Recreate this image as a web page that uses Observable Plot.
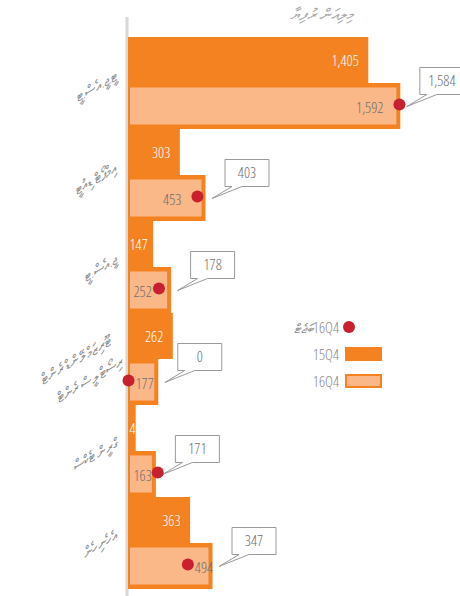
<!DOCTYPE html>
<html><head><meta charset="utf-8">
<script src="https://cdn.jsdelivr.net/npm/d3@7"></script>
<script src="https://cdn.jsdelivr.net/npm/@observablehq/plot@0.6"></script>
<style>
body{margin:0;background:#fff;}
#wrap{position:relative;width:460px;height:596px;overflow:hidden;font-family:"Open Sans",sans-serif;font-stretch:75%;font-weight:300;}
#wrap svg{position:absolute;left:0;top:0;}
.ov{position:absolute;color:#8a8a8a;font-size:15px;white-space:nowrap;line-height:16px;}
</style></head><body><div id="wrap"></div>
<script>
// ---- data ----
const groups = ["ޓީ.ޖީ.އެސް.ޓީ", "އިމްޕޯޓް ޑިއުޓީ", "ޖީ.އެސް.ޓީ", "ޓޫރިޒަމް ލޭންޑް ރެންޓް\nރިސޯޓް ލީސް ރެންޓް", "ގްރީން ޓެކްސް", "އެހެނިހެން"];
const q15 = [1405, 303, 147, 262, 45, 363];
const q16 = [1592, 453, 252, 177, 163, 494];
const budget16 = [1584, 403, 178, 0, 171, 347];
const seriesNames = ["15Q4", "16Q4"];
const budgetName = "ބަޖެޓް";
const unitTitle = "މިލިއަން ރުފިޔާ";

// ---- styles ----
const DARK = "#F58220", LIGHT = "#FAB788", RED = "#C8202F", GRAY = "#6d6e71";
const X0 = 128, X1 = 453, XMAX = 1900;
const W = 460, H = 596;
const FS = 15;

const keyA = i => `${i}a`, keyB = i => `${i}b`;
const rows15 = groups.map((g, i) => ({key: keyA(i), value: q15[i]}));
const rows16 = groups.map((g, i) => ({key: keyB(i), value: q16[i], budget: budget16[i]}));
const yDomain = groups.flatMap((g, i) => [keyA(i), keyB(i)]);

const px = v => v * (X1 - X0) / XMAX;
const fmt = d3.format(",");
const tw = s => s.length * 6.1;

const lab15 = rows15.map(r => {
  const s = fmt(r.value);
  const fits = px(r.value) - 10 - tw(s) >= 4;
  return {...r, s, kind: fits ? "end" : "start", lx: fits ? r.value : 0};
});
const lab16 = rows16.map(r => {
  const s = fmt(r.value), w = tw(s);
  if (px(r.value) - px(r.budget) > w + 6) return {...r, s, kind: "after", lx: r.budget};
  const e = Math.min(r.value, r.budget);
  if (px(e) - 16 - w >= 5) return {...r, s, kind: "end", lx: e};
  return {...r, s, kind: "start", lx: 0};
});

const callout = {
  draw(ctx) {
    const L = 19, T = -39, Wd = 44, B = -12;
    ctx.moveTo(L, T); ctx.lineTo(L + Wd, T); ctx.lineTo(L + Wd, B);
    ctx.lineTo(L + 17, B); ctx.lineTo(6, 0); ctx.lineTo(L + 7, B);
    ctx.lineTo(L, B); ctx.closePath();
  }
};

const chart = Plot.plot({
  width: W, height: H,
  marginLeft: X0, marginRight: W - X1, marginTop: 34, marginBottom: 4,
  style: {fontFamily: "'Open Sans', sans-serif", fontStretch: "75%", fontWeight: 300, background: "transparent", overflow: "visible"},
  x: {domain: [0, XMAX], range: [X0, X1], axis: null},
  y: {domain: yDomain, range: [34, 592], padding: 0, axis: null},
  marks: [
    Plot.ruleX([0], {stroke: "#d8d8d8", strokeWidth: 3, dx: -1.5, insetTop: -17, insetBottom: -4}),
    Plot.barX(rows15, {x: "value", y: "key", fill: DARK}),
    Plot.barX(rows16, {x: "value", y: "key", fill: DARK}),
    Plot.barX(rows16, {x: "value", y: "key", fill: LIGHT, insetTop: 4.5, insetBottom: 4.5, insetRight: 4, insetLeft: 2}),
    // 15Q4 value labels
    Plot.text(lab15.filter(d => d.kind === "end"), {x: "lx", y: "key", text: "s", textAnchor: "end", dx: -10, dy: 1, fill: "white", fontSize: FS}),
    Plot.text(lab15.filter(d => d.kind === "start"), {x: "lx", y: "key", text: "s", textAnchor: "start", dx: 1, dy: 1, fill: "white", fontSize: FS}),
    // 16Q4 value labels
    Plot.text(lab16.filter(d => d.kind === "end"), {x: "lx", y: "key", text: "s", textAnchor: "end", dx: -16, dy: 2, fill: GRAY, fontSize: FS}),
    Plot.text(lab16.filter(d => d.kind === "start"), {x: "lx", y: "key", text: "s", textAnchor: "start", dx: 5, dy: 2, fill: GRAY, fontSize: FS}),
    Plot.text(lab16.filter(d => d.kind === "after"), {x: "lx", y: "key", text: "s", textAnchor: "start", dx: 7, dy: 2, fill: GRAY, fontSize: FS}),
    // callouts
    Plot.dot(rows16, {x: "value", y: "key", symbol: callout, fill: "white", stroke: "#9a9a9a", strokeWidth: 1, r: 5}),
    Plot.text(rows16, {x: "value", y: "key", text: d => fmt(d.budget), dx: 41, dy: -25, fill: GRAY, fontSize: FS}),
    // budget dots
    Plot.dot(rows16, {x: "budget", y: "key", r: 6, fill: RED, stroke: "none", dy: -2}),
    // category labels
    Plot.text(groups, {x: () => 0, y: (d, i) => keyB(i), text: d => d, textAnchor: "end", rotate: -30, dx: -14, dy: -34, fill: "#8a8a8a", fontSize: 14, lineHeight: 1.7, fontStyle: "italic"})
  ]
});

const wrap = document.getElementById("wrap");
wrap.appendChild(chart);

function ov(html, css) {
  const d = document.createElement("div");
  d.className = "ov";
  d.innerHTML = html;
  Object.assign(d.style, css);
  wrap.appendChild(d);
  return d;
}
ov(`<span dir="rtl">${unitTitle}</span>`, {right: (W - 352) + "px", top: "6px", fontSize: "16px", color: "#a5a5a5", fontStyle: "italic"});
ov(`<span dir="rtl" style="font-size:13px;font-style:italic">${budgetName}</span><span>${seriesNames[1]}</span>`, {right: (W - 339) + "px", top: "319px"});
ov(`<span>${seriesNames[0]}</span>`, {right: (W - 339) + "px", top: "346px"});
ov(`<span>${seriesNames[1]}</span>`, {right: (W - 339) + "px", top: "373px"});
ov("", {left: "343px", top: "321px", width: "12px", height: "12px", borderRadius: "50%", background: RED});
ov("", {left: "345px", top: "347px", width: "37px", height: "14px", background: DARK});
ov("", {left: "345px", top: "374px", width: "37px", height: "14px", background: LIGHT, border: "2px solid " + DARK, boxSizing: "border-box"});
</script>
</body></html>
